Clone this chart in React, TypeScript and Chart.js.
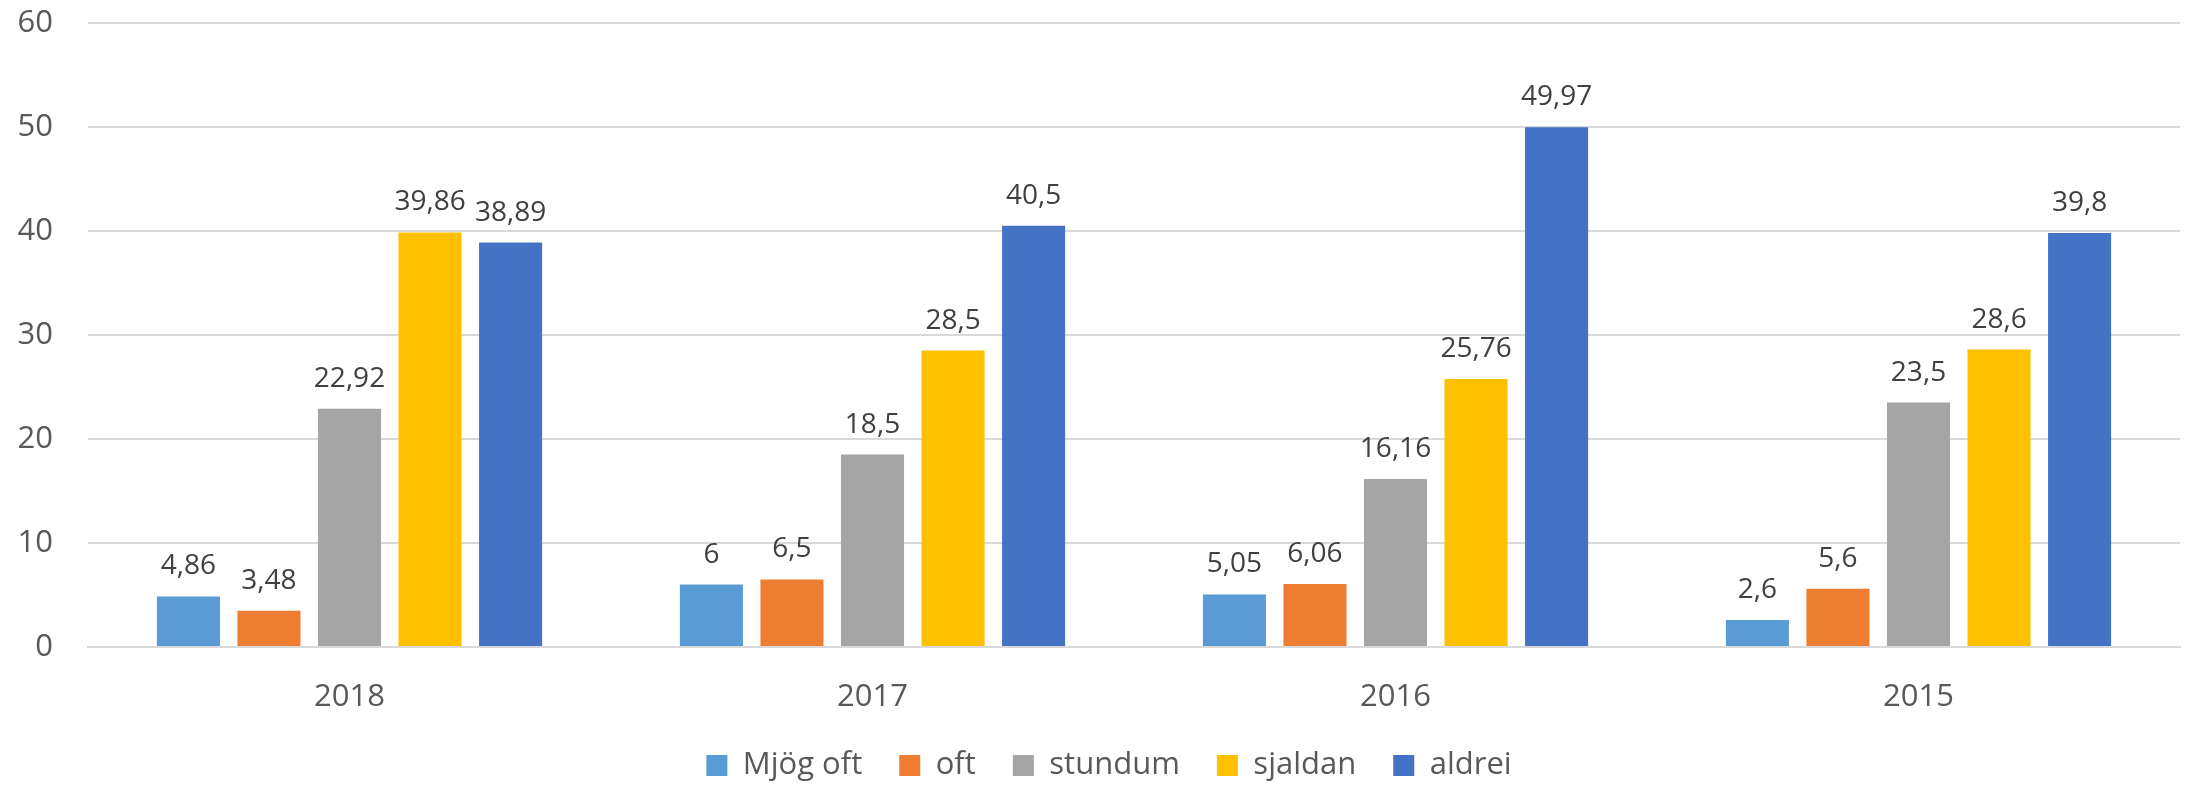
import React, { useEffect, useRef } from "react";
import { Chart, registerables } from "chart.js";

Chart.register(...registerables);

const categories = ["2018", "2017", "2016", "2015"];
const seriesNames = ["Mjög oft", "oft", "stundum", "sjaldan", "aldrei"];
const mjogOft = [4.86, 6, 5.05, 2.6];
const oft = [3.48, 6.5, 6.06, 5.6];
const stundum = [22.92, 18.5, 16.16, 23.5];
const sjaldan = [39.86, 28.5, 25.76, 28.6];
const aldrei = [38.89, 40.5, 49.97, 39.8];
const seriesColors = ["#5B9BD5", "#ED7D31", "#A5A5A5", "#FFC000", "#4472C4"];
const yTicks = [0, 10, 20, 30, 40, 50, 60];

const FONT = "'Open Sans', 'DejaVu Sans', sans-serif";

const dataLabels = {
  id: "dataLabels",
  afterDatasetsDraw(chart: any) {
    const ctx = chart.ctx;
    ctx.save();
    ctx.font = `28px ${FONT}`;
    ctx.fillStyle = "#404040";
    ctx.textAlign = "center";
    ctx.textBaseline = "middle";
    chart.data.datasets.forEach((ds: any, i: number) => {
      const meta = chart.getDatasetMeta(i);
      meta.data.forEach((el: any, j: number) => {
        const v = ds.data[j];
        ctx.fillText(String(v).replace(".", ","), el.x, el.y - 30);
      });
    });
    ctx.restore();
  },
};

const legendShift = {
  id: "legendShift",
  afterLayout(chart: any) {
    const lg = chart.legend;
    if (!lg) return;
    lg.left += 19;
    lg.right += 19;
    lg.top += 6;
    lg.bottom += 6;
  },
};

export default function App() {
  const ref = useRef<HTMLCanvasElement | null>(null);
  useEffect(() => {
    if (!ref.current) return;
    const all = [mjogOft, oft, stundum, sjaldan, aldrei];
    const chart = new Chart(ref.current, {
      type: "bar",
      data: {
        labels: categories,
        datasets: all.map((d, i) => ({
          label: seriesNames[i],
          data: d,
          backgroundColor: seriesColors[i],
          borderWidth: 0,
          categoryPercentage: 0.77,
          barPercentage: 0.783,
        })),
      },
      options: {
        animation: false,
        responsive: false,
        devicePixelRatio: 1,
        layout: { padding: { left: 0, right: 6, top: 23, bottom: 0 } },
        plugins: {
          tooltip: { enabled: false },
          legend: {
            position: "bottom",
            labels: {
              boxWidth: 21,
              boxHeight: 21,
              padding: 37,
              color: "#595959",
              font: { family: FONT, size: 31 },
            },
          },
        },
        scales: {
          x: {
            afterFit(scale: any) {
              scale.height = 60;
            },
            grid: { display: false, drawTicks: false },
            border: { display: true, color: "#D9D9D9", width: 2 },
            ticks: { color: "#595959", font: { family: FONT, size: 31 }, padding: 32 },
          },
          y: {
            min: 0,
            max: 60,
            afterFit(scale: any) {
              scale.width = 88;
              scale.paddingTop = 0;
              scale.paddingBottom = 0;
            },
            afterBuildTicks(scale: any) {
              scale.ticks = yTicks.map((v) => ({ value: v }));
            },
            grid: { color: "#D9D9D9", lineWidth: 2, drawTicks: false },
            border: { display: false },
            ticks: { color: "#595959", font: { family: FONT, size: 31 }, padding: 35 },
          },
        },
      },
      plugins: [dataLabels, legendShift],
    });
    return () => chart.destroy();
  }, []);
  return (
    <div style={{ position: "absolute", left: 0, top: 0, width: 2186, height: 785, background: "#fff" }}>
      <canvas ref={ref} width={2186} height={785} style={{ display: "block" }} />
    </div>
  );
}
